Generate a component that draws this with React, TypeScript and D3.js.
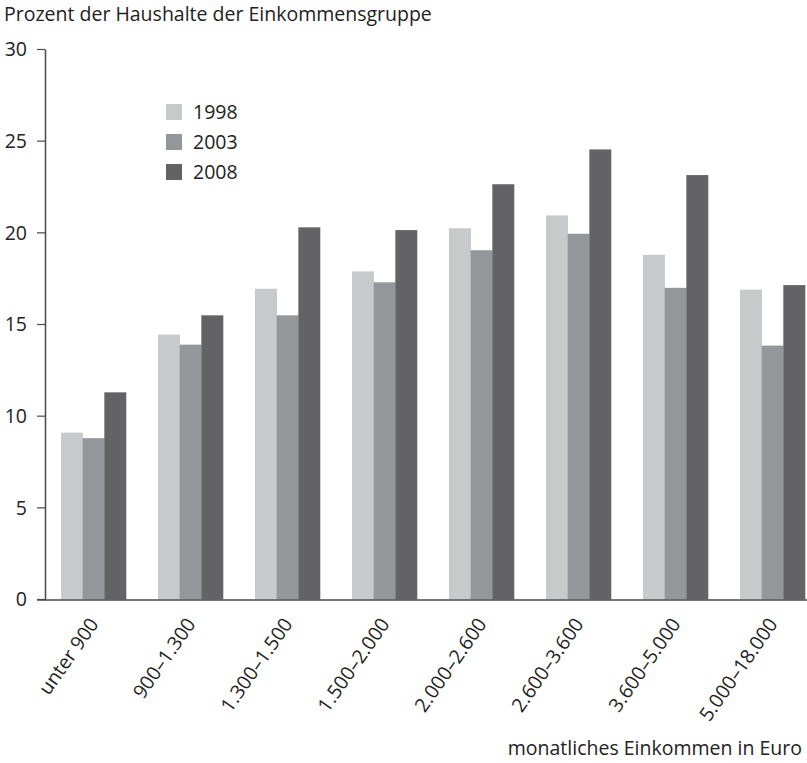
import React from "react";
import * as d3 from "d3";

const categories = ["unter 900", "900–1.300", "1.300–1.500", "1.500–2.000", "2.000–2.600", "2.600–3.600", "3.600–5.000", "5.000–18.000"];
const seriesNames = ["1998", "2003", "2008"];
const values1998 = [9.1, 14.45, 16.95, 17.9, 20.25, 20.95, 18.8, 16.9];
const values2003 = [8.8, 13.9, 15.5, 17.3, 19.05, 19.95, 17.0, 13.85];
const values2008 = [11.3, 15.5, 20.3, 20.15, 22.65, 24.55, 23.15, 17.15];
const yTicks = [0, 5, 10, 15, 20, 25, 30];
const colors = ["#c8c9cb", "#95969a", "#636365"];

const W = 807;
const H = 763;
const FONT = "'Open Sans', sans-serif";
const FS = 19.5;

export default function App() {
  const series = [values1998, values2003, values2008];
  const y = d3.scaleLinear().domain([0, 30]).range([599.5, 49.5]);
  const x0 = d3.scaleBand<string>().domain(categories).range([45, 45 + 97 * 8]).paddingInner(0.33).paddingOuter(0.165);
  const x1 = d3.scaleBand<string>().domain(seriesNames).range([0, x0.bandwidth()]);
  const axisColor = "#4a4a4a";
  const textColor = "#222";
  return (
    <svg width={W} height={H} style={{ position: "absolute", left: 0, top: 0 }} fontFamily={FONT}>
      <rect width={W} height={H} fill="#fff" />
      <text x={4} y={21} fontSize={FS} fill={textColor}>Prozent der Haushalte der Einkommensgruppe</text>
      {categories.map((c, i) => (
        <g key={c}>
          {series.map((s, j) => (
            <rect key={j} x={(x0(c) as number) + (x1(seriesNames[j]) as number)} y={y(s[i])} width={x1.bandwidth() + 0.3} height={y(0) - y(s[i])} fill={colors[j]} />
          ))}
        </g>
      ))}
      <line x1={45.5} x2={45.5} y1={49.5} y2={600} stroke={axisColor} strokeWidth={1.5} />
      <line x1={37} x2={W} y1={600} y2={600} stroke={axisColor} strokeWidth={1.5} />
      {yTicks.map((t) => (
        <g key={t}>
          <line x1={37} x2={45} y1={y(t)} y2={y(t)} stroke={axisColor} strokeWidth={1.2} />
          <text x={27} y={y(t)} dy="0.35em" textAnchor="end" fontSize={FS} fill={textColor}>{t}</text>
        </g>
      ))}
      {categories.map((c) => {
        const cx = (x0(c) as number) + x0.bandwidth() / 2 + 6;
        const cy = 624;
        return (
          <text key={c} transform={`translate(${cx},${cy}) rotate(-55)`} textAnchor="end" fontSize={FS} fill={textColor}>{c}</text>
        );
      })}
      {seriesNames.map((n, j) => (
        <g key={n} transform={`translate(166,${104 + j * 30})`}>
          <rect width={16} height={16} fill={colors[j]} />
          <text x={27} y={8} dy="0.35em" fontSize={FS} fill={textColor}>{n}</text>
        </g>
      ))}
      <text x={802} y={755} textAnchor="end" fontSize={FS} fill={textColor}>monatliches Einkommen in Euro</text>
    </svg>
  );
}
